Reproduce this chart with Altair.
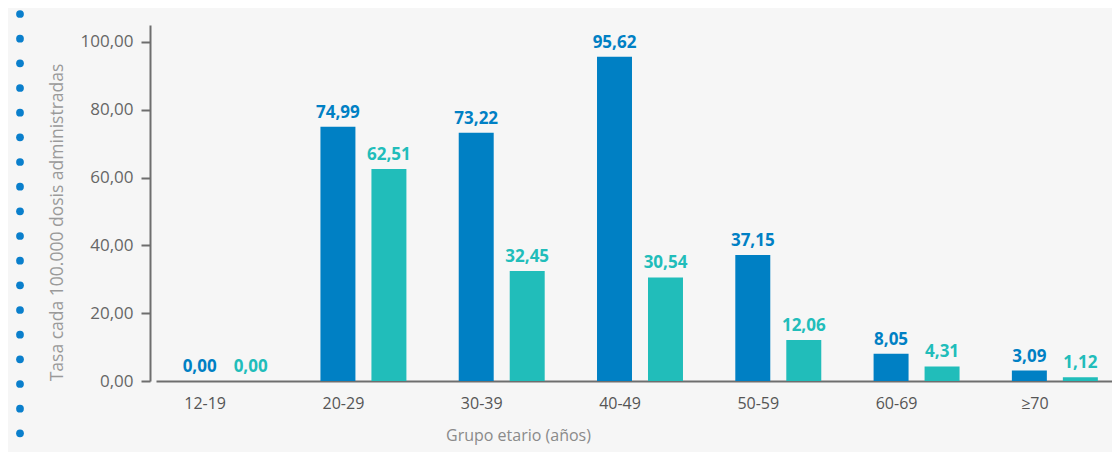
import altair as alt
import pandas as pd

groups = ["12-19", "20-29", "30-39", "40-49", "50-59", "60-69", "≥70"]
series_names = ["Serie A", "Serie B"]
values_a = [0.00, 74.99, 73.22, 95.62, 37.15, 8.05, 3.09]
values_b = [0.00, 62.51, 32.45, 30.54, 12.06, 4.31, 1.12]
y_ticks = [0, 20, 40, 60, 80, 100]
dot_index = list(range(19))

BLUE = "#0080c4"
TEAL = "#21bdba"
FONT = "Open Sans"

rows = []
for g, a, b in zip(groups, values_a, values_b):
    rows.append({"grupo": g, "serie": series_names[0], "valor": a,
                 "etiqueta": f"{a:.2f}".replace(".", ",")})
    rows.append({"grupo": g, "serie": series_names[1], "valor": b,
                 "etiqueta": f"{b:.2f}".replace(".", ",")})
df = pd.DataFrame(rows)
dots = pd.DataFrame({"i": dot_index})

x_enc = alt.X("grupo:N", sort=groups,
              scale=alt.Scale(range=[6, 974], paddingInner=0, paddingOuter=0),
              axis=alt.Axis(title="Grupo etario (años)", labelAngle=0, ticks=False,
                            labelOffset=-20, labelPadding=14, labelFontSize=16,
                            labelColor="#555555", labelFont=FONT,
                            titleFont=FONT, titleFontSize=16, titleFontWeight="normal",
                            titleColor="#8a8a8a", titleX=368, titleY=46,
                            domainColor="#6e6e6e", domainWidth=2))
xo_enc = alt.XOffset("serie:N", sort=series_names,
                     scale=alt.Scale(paddingInner=0.314, paddingOuter=0.513))
color_enc = alt.Color("serie:N", sort=series_names,
                      scale=alt.Scale(domain=series_names, range=[BLUE, TEAL]),
                      legend=None)
y_enc = alt.Y("valor:Q", scale=alt.Scale(domain=[0, 105], nice=False),
              axis=alt.Axis(title="Tasa cada 100.000 dosis administradas",
                            values=y_ticks, grid=False,
                            labelExpr="replace(format(datum.value, '.2f'), '.', ',')",
                            labelFont=FONT, labelFontSize=17, labelColor="#666666",
                            labelPadding=8, tickSize=9, tickWidth=2, tickColor="#6e6e6e",
                            domainColor="#6e6e6e", domainWidth=2,
                            titleFont=FONT, titleFontSize=17.5, titleFontWeight="normal",
                            titleColor="#9a9a9a", titleX=-84, titleY=197))

bars = alt.Chart(df).mark_bar().encode(x=x_enc, xOffset=xo_enc, y=y_enc, color=color_enc)
labels = alt.Chart(df).mark_text(baseline="bottom", dy=-5, fontSize=17,
                                 fontWeight="bold", font=FONT).encode(
    x=alt.X("grupo:N", sort=groups), xOffset=xo_enc, y="valor:Q",
    text="etiqueta:N", color=color_enc)

main = alt.layer(bars, labels)

deco = alt.Chart(dots).mark_circle(size=60, opacity=1, color="#0a7fcc").encode(
    x=alt.value(-130),
    y=alt.Y("i:Q", scale=alt.Scale(domain=[0, 18], range=[-11, 433]), axis=None))

chart = alt.layer(main, deco).resolve_scale(y="independent").properties(
    width=960, height=356,
    autosize=alt.AutoSizeParams(type="none"),
    padding={"left": 142, "top": 17, "right": 2, "bottom": 71},
    background="#f6f6f6",
).configure_view(stroke=None)

chart.save("out.html", embed_options={"renderer": "svg", "actions": False})
